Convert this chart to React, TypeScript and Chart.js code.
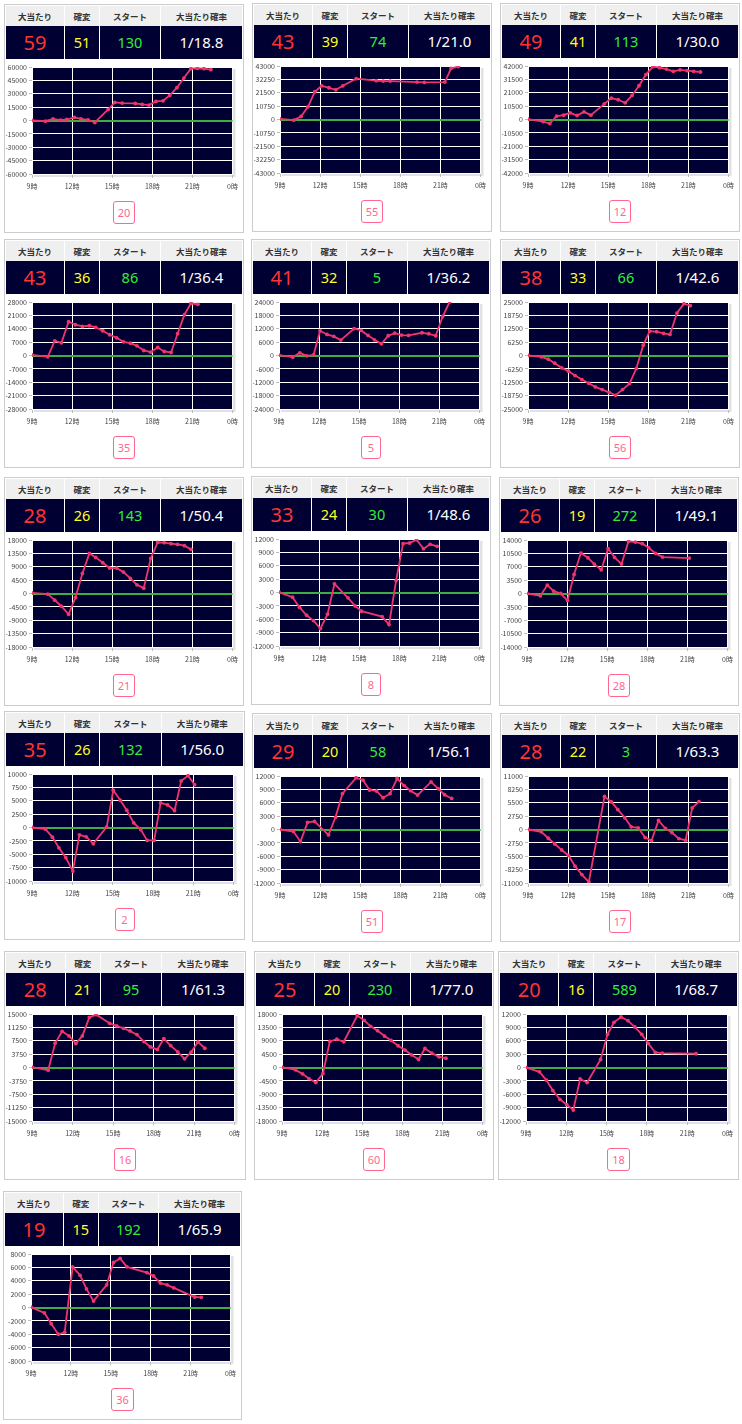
import React, { useEffect, useRef } from 'react';
import { Chart, registerables } from 'chart.js';
Chart.register(...registerables);

// ---- data ----
const headers = ['大当たり', '確変', 'スタート', '大当たり確率'];
const bigHits = [59, 43, 49, 43, 41, 38, 28, 33, 26, 35, 29, 28, 28, 25, 20, 19];
const kakuhen = [51, 39, 41, 36, 32, 33, 26, 24, 19, 26, 20, 22, 21, 20, 16, 15];
const starts = [130, 74, 113, 86, 5, 66, 143, 30, 272, 132, 58, 3, 95, 230, 589, 192];
const probs = ['1/18.8', '1/21.0', '1/30.0', '1/36.4', '1/36.2', '1/42.6', '1/50.4', '1/48.6', '1/49.1', '1/56.0', '1/56.1', '1/63.3', '1/61.3', '1/77.0', '1/68.7', '1/65.9'];
const badges = [20, 55, 12, 35, 5, 56, 21, 8, 28, 2, 51, 17, 16, 60, 18, 36];
const yMaxes = [60000, 43000, 42000, 28000, 24000, 25000, 18000, 12000, 14000, 10000, 12000, 11000, 15000, 18000, 12000, 8000];
const xTickHours = [9, 12, 15, 18, 21, 24];

const hours1 = [9.0, 10.0, 10.57, 11.14, 11.6, 12.17, 12.66, 13.2, 13.7, 14.7, 15.2, 15.74, 16.72, 17.24, 17.75, 18.27, 18.8, 19.3, 19.84, 20.36, 20.88, 21.37, 21.86, 22.38];
const diff1 = [0, -750, 1900, 400, 1100, 3400, 1900, 750, -2250, 12400, 20250, 19500, 19100, 18000, 17250, 21400, 22100, 28100, 36750, 47600, 58100, 58500, 58100, 57000];

const hours2 = [9.0, 10.03, 10.57, 11.09, 11.6, 12.12, 12.66, 13.18, 13.7, 14.7, 16.2, 16.72, 17.24, 19.25, 19.8, 21.33, 21.8, 22.34];
const diff2 = [500, -540, 2400, 10200, 22300, 27100, 25500, 23900, 27100, 32800, 31200, 30900, 30900, 30100, 29800, 30100, 41100, 42500];

const hours3 = [9.0, 10.13, 10.63, 11.14, 11.66, 12.15, 12.67, 13.19, 13.7, 14.71, 15.23, 15.75, 16.27, 16.78, 17.3, 17.82, 18.34, 18.83, 19.35, 19.87, 20.38, 20.9, 21.39, 21.9];
const diff3 = [250, -1600, -3150, 2600, 3400, 5250, 3150, 6000, 3400, 12300, 16800, 15500, 13100, 18900, 26500, 35200, 41500, 40700, 39600, 37800, 38900, 38300, 37800, 37300];

const hours4 = [9.0, 10.18, 10.7, 11.2, 11.74, 12.25, 12.77, 13.29, 13.77, 14.29, 14.81, 15.33, 15.84, 16.36, 16.85, 17.36, 17.88, 18.4, 18.89, 19.4, 19.89, 20.4, 20.89, 21.41];
const diff4 = [350, -700, 7700, 6650, 17675, 16100, 15225, 15575, 14700, 12950, 10850, 9275, 7175, 6475, 5075, 2625, 1750, 4200, 2100, 1575, 11375, 21350, 27300, 26775];

const hours5 = [9.0, 10.03, 10.55, 11.07, 11.59, 12.07, 12.59, 13.1, 13.62, 14.62, 15.14, 15.66, 16.14, 16.66, 17.17, 17.66, 18.17, 18.69, 19.69, 20.2, 20.72, 21.24, 21.76];
const diff5 = [150, -750, 1200, -150, 300, 11100, 9450, 8550, 6900, 12100, 11250, 9000, 7050, 5250, 8850, 10050, 9150, 9000, 10200, 9750, 8850, 17500, 24000];

const hours6 = [9.0, 10.0, 10.52, 11.0, 11.52, 12.03, 12.52, 13.03, 13.55, 14.03, 14.55, 15.07, 15.55, 16.07, 16.59, 17.1, 17.62, 18.1, 18.62, 19.14, 19.62, 20.14, 20.66, 21.14];
const diff6 = [0, -625, -1720, -3600, -5780, -7340, -9375, -11250, -12970, -14690, -15940, -17190, -18590, -15940, -13125, -6100, 4840, 11400, 11100, 10300, 9840, 19840, 24200, 23300];

const hours7 = [9.0, 10.18, 10.7, 11.2, 11.74, 12.25, 12.77, 13.29, 13.77, 14.29, 14.81, 15.33, 15.84, 16.36, 16.85, 17.36, 17.88, 18.4, 18.89, 19.4, 19.89, 20.4, 20.89];
const diff7 = [225, -225, -2250, -4275, -6975, -1350, 6750, 13500, 12150, 10350, 8550, 8550, 7200, 5060, 2925, 1800, 11800, 17200, 17100, 16760, 16540, 16090, 14850];

const hours8 = [9.0, 10.01, 10.53, 11.06, 11.58, 12.1, 12.63, 13.15, 14.16, 14.69, 15.17, 16.71, 17.23, 17.76, 18.28, 18.77, 19.29, 19.81, 20.3, 20.83];
const diff8 = [75, -1050, -3300, -5100, -6300, -8100, -4875, 1950, -1200, -3000, -4200, -5400, -7200, 2700, 10950, 11100, 11850, 9825, 10800, 10350];

const hours9 = [9.0, 10.0, 10.52, 11.0, 11.52, 12.03, 12.52, 13.03, 13.55, 14.03, 14.55, 15.07, 15.55, 16.07, 16.59, 17.1, 17.62, 18.1, 18.62, 19.14, 21.14];
const diff9 = [0, -610, 2190, 610, 0, -1840, 4990, 10590, 9360, 7700, 6210, 11730, 9450, 7700, 13650, 13470, 13040, 11990, 10500, 9540, 9280];

const hours10 = [9.0, 10.0, 10.52, 11.0, 11.52, 12.04, 12.53, 13.04, 13.56, 14.56, 15.05, 15.57, 16.05, 16.57, 17.09, 17.57, 18.09, 18.57, 19.09, 19.61, 20.1, 20.61, 21.1];
const diff10 = [0, -310, -1800, -3790, -5650, -8140, -1370, -1740, -3040, 120, 6960, 5090, 3230, 870, -370, -2420, -2420, 4600, 4220, 3170, 8700, 9690, 8010];

const hours11 = [9.0, 10.01, 10.53, 11.06, 11.58, 12.63, 13.15, 13.67, 14.69, 15.21, 15.7, 16.22, 16.71, 17.23, 17.76, 18.28, 18.77, 19.29, 20.3, 20.83, 21.31, 21.84];
const diff11 = [0, -450, -2730, 1590, 1820, -1210, 2730, 8030, 11590, 11060, 8860, 8640, 7120, 8030, 11440, 9850, 8710, 7730, 10680, 9170, 7800, 6970];

const hours12 = [9.0, 10.0, 10.52, 11.0, 11.52, 12.03, 12.52, 13.03, 13.55, 14.72, 15.24, 15.72, 16.24, 16.72, 17.24, 17.76, 18.24, 18.76, 19.28, 19.76, 20.28, 20.79, 21.28, 21.79];
const diff12 = [0, -480, -1800, -2970, -4220, -5330, -7540, -9270, -10790, 6780, 5670, 4080, 2420, 550, 350, -1660, -2280, 1870, 210, -620, -1870, -2210, 4430, 5740];

const hours13 = [9.0, 10.2, 10.71, 11.23, 11.74, 12.25, 12.73, 13.25, 13.76, 14.75, 15.27, 15.78, 16.26, 16.77, 17.29, 17.77, 18.28, 18.76, 19.27, 19.79, 20.3, 20.78, 21.29, 21.8];
const diff13 = [90, -750, 6800, 10150, 8850, 6710, 8850, 14070, 14810, 12390, 11650, 10990, 10250, 9220, 7270, 5780, 5030, 8100, 6150, 4380, 2420, 4290, 7170, 5400];

const hours14 = [9.0, 10.01, 10.53, 11.01, 11.53, 12.06, 12.58, 13.1, 13.62, 14.63, 15.15, 15.63, 16.15, 16.67, 17.16, 17.68, 18.2, 18.69, 19.21, 19.69, 20.2, 20.74, 21.26];
const diff14 = [110, -790, -2140, -3710, -5060, -2020, 8780, 9560, 8660, 17440, 15860, 13840, 12380, 10580, 9110, 7310, 5850, 4280, 2700, 6410, 4840, 3600, 3150];

const hours15 = [9.0, 10.0, 10.52, 11.0, 11.52, 12.03, 12.52, 13.03, 13.55, 14.55, 15.07, 15.55, 16.07, 16.59, 17.1, 17.62, 18.1, 18.62, 19.14, 21.66];
const diff15 = [0, -975, -2850, -5180, -7130, -8330, -9530, -2550, -3380, 1800, 7430, 10130, 11330, 10500, 9080, 7430, 5400, 3380, 3230, 3080];

const hours16 = [9.0, 10.01, 10.52, 11.05, 11.53, 12.13, 12.69, 13.17, 13.7, 14.69, 15.2, 15.7, 16.21, 17.71, 18.21, 18.72, 19.23, 19.73, 21.3, 21.8];
const diff16 = [50, -810, -2430, -4000, -3700, 6080, 4810, 2780, 960, 3390, 6730, 7340, 6080, 5220, 4710, 3650, 3390, 2940, 1570, 1520];

const hoursList = [hours1, hours2, hours3, hours4, hours5, hours6, hours7, hours8, hours9, hours10, hours11, hours12, hours13, hours14, hours15, hours16];
const diffList = [diff1, diff2, diff3, diff4, diff5, diff6, diff7, diff8, diff9, diff10, diff11, diff12, diff13, diff14, diff15, diff16];

// ---- layout (left, top, width) of each card ----
const cardBoxes = [
  [4, 4, 240], [252, 3, 240], [500, 3, 240],
  [4, 239, 240], [251, 239, 240], [500, 239, 240],
  [4, 477, 240], [251, 476, 240], [499, 477, 240],
  [4, 711, 241], [252, 713, 240], [500, 713, 240],
  [4, 951, 242], [254, 951, 240], [498, 951, 241],
  [3, 1191, 239],
];

const NAVY = '#000033';
const LINE = '#f0356a';
const FONT = '"Noto Sans CJK JP", "Noto Sans", sans-serif';

const bgPlugin = {
  id: 'plotBg',
  beforeDraw(chart: any) {
    const { ctx, chartArea: a } = chart;
    ctx.save();
    ctx.fillStyle = '#e2e2e2';
    ctx.fillRect(a.left + 2, a.top + 2, a.right - a.left + 1, a.bottom - a.top + 1);
    ctx.fillStyle = NAVY;
    ctx.fillRect(a.left, a.top, a.right - a.left, a.bottom - a.top);
    ctx.restore();
  },
  beforeDatasetsDraw(chart: any) {
    const { ctx, chartArea: a, scales } = chart;
    const y = Math.round(scales.y.getPixelForValue(0));
    ctx.save();
    ctx.strokeStyle = '#3fae3f';
    ctx.lineWidth = 2;
    ctx.beginPath();
    ctx.moveTo(a.left, y);
    ctx.lineTo(a.right, y);
    ctx.stroke();
    ctx.restore();
  },
};

function Card({ idx }: { idx: number }) {
  const ref = useRef<HTMLCanvasElement>(null);
  const [left, top, width] = cardBoxes[idx];
  const canvasW = width - 4;
  const canvasH = 140;
  useEffect(() => {
    if (!ref.current) return;
    const M = yMaxes[idx];
    const hours = hoursList[idx];
    const diffs = diffList[idx];
    const chart = new Chart(ref.current, {
      type: 'line',
      data: {
        datasets: [
          {
            data: hours.map((h, i) => ({ x: h, y: diffs[i] })),
            borderColor: LINE,
            backgroundColor: LINE,
            borderWidth: 1.8,
            pointRadius: 1.9,
            pointBorderWidth: 0,
            pointHoverRadius: 0,
            tension: 0,
          },
        ],
      },
      options: {
        animation: false,
        responsive: false,
        maintainAspectRatio: false,
        layout: { padding: { top: 7, right: 5, left: 0, bottom: 0 } },
        plugins: { legend: { display: false }, tooltip: { enabled: false } },
        scales: {
          x: {
            type: 'linear',
            min: 9,
            max: 24,
            afterBuildTicks: (s: any) => {
              s.ticks = xTickHours.map((v) => ({ value: v }));
            },
            ticks: {
              callback: (v: any) => `${Number(v) % 24}時`,
              font: { size: 7, family: FONT },
              color: '#444',
              padding: 4,
              maxRotation: 0,
              autoSkip: false,
            },
            grid: { color: '#ffffff', tickColor: '#bbbbbb', tickLength: 4, lineWidth: 1 },
            border: { color: '#ffffff' },
            afterFit: (s: any) => {
              s.height = 26;
            },
          },
          y: {
            min: -M,
            max: M,
            ticks: {
              stepSize: M / 4,
              callback: (v: any) => String(v),
              font: { size: 7, family: FONT },
              color: '#444',
              padding: 2,
              autoSkip: false,
            },
            grid: { color: '#ffffff', tickColor: '#bbbbbb', tickLength: 3, lineWidth: 1 },
            border: { color: '#ffffff' },
            afterFit: (s: any) => {
              s.width = 26;
            },
          },
        },
      },
      plugins: [bgPlugin],
    });
    return () => chart.destroy();
  }, [idx]);

  const colW = ['24.6%', '14.8%', '25.8%', '34.8%'];
  const values = [
    { text: String(bigHits[idx]), color: '#ff3333', size: 20 },
    { text: String(kakuhen[idx]), color: '#ffff22', size: 14.5 },
    { text: String(starts[idx]), color: '#33ee33', size: 14.5 },
    { text: probs[idx], color: '#ffffff', size: 15 },
  ];

  return (
    <div
      style={{
        position: 'absolute',
        left,
        top,
        width,
        height: 229,
        boxSizing: 'border-box',
        border: '1px solid #cccccc',
        background: '#ffffff',
      }}
    >
      <div style={{ position: 'absolute', left: 1, top: 1, width: width - 4 }}>
        <div style={{ display: 'flex', height: 20, background: '#efefef' }}>
          {headers.map((h, i) => (
            <div
              key={i}
              style={{
                width: colW[i],
                boxSizing: 'border-box',
                borderLeft: i ? '1px solid #ffffff' : 'none',
                textAlign: 'center',
                lineHeight: '20px',
                fontSize: 8.5,
                fontWeight: 'bold',
                color: '#333',
                fontFamily: FONT,
              }}
            >
              {h}
            </div>
          ))}
        </div>
        <div style={{ display: 'flex', height: 33, background: NAVY }}>
          {values.map((v, i) => (
            <div
              key={i}
              style={{
                width: colW[i],
                boxSizing: 'border-box',
                borderLeft: i ? '1px solid #ffffff' : 'none',
                textAlign: 'center',
                lineHeight: '33px',
                fontSize: v.size,
                color: v.color,
                fontFamily: '"Noto Sans", sans-serif',
              }}
            >
              {v.text}
            </div>
          ))}
        </div>
      </div>
      <canvas
        ref={ref}
        width={canvasW}
        height={canvasH}
        style={{ position: 'absolute', left: 1, top: 55, width: canvasW, height: canvasH }}
      />
      <div style={{ position: 'absolute', left: 0, right: 0, top: 196, textAlign: 'center' }}>
        <span
          style={{
            display: 'inline-block',
            minWidth: 10,
            padding: '0 4px',
            height: 21,
            lineHeight: '21px',
            border: '1px solid #ff6690',
            borderRadius: 3,
            color: '#ff6690',
            fontSize: 11,
            fontFamily: '"Noto Sans", sans-serif',
          }}
        >
          {badges[idx]}
        </span>
      </div>
    </div>
  );
}

export default function App() {
  useEffect(() => {
    document.body.style.margin = '0';
  }, []);
  return (
    <div style={{ position: 'relative', width: 742, height: 1424, background: '#ffffff' }}>
      {cardBoxes.map((_, i) => (
        <Card key={i} idx={i} />
      ))}
    </div>
  );
}
